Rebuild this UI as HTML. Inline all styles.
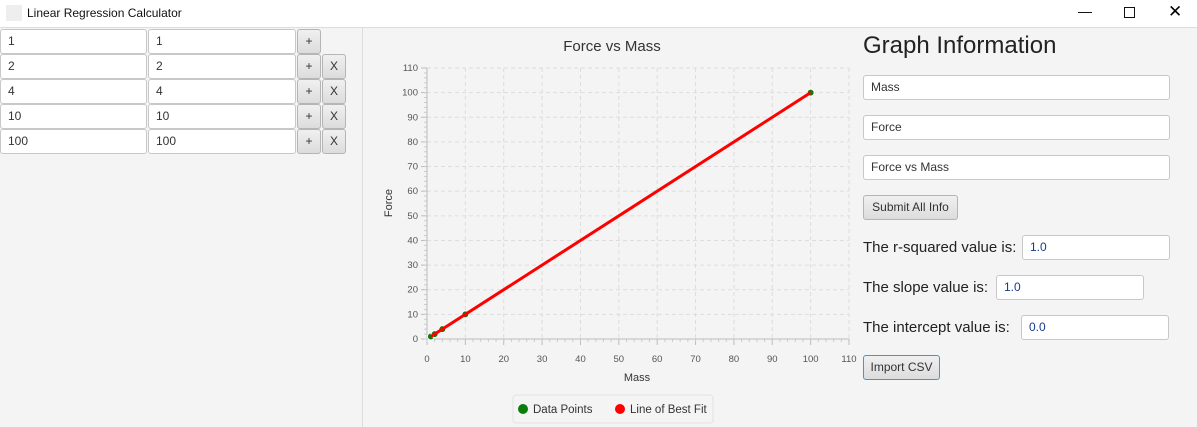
<!DOCTYPE html>
<html><head><meta charset="utf-8"><style>
body{margin:0;width:1197px;height:427px;background:#f4f4f4;font-family:"Liberation Sans",sans-serif;position:relative;overflow:hidden}
.a{position:absolute;box-sizing:border-box}
.inp{background:#fff;border:1px solid #c8c8c8;border-radius:3px;font-size:12px;color:#333;padding:5px 7px;line-height:13px}
.btn{background:linear-gradient(#f0f0f0,#dcdcdc);border:1px solid #b5b5b5;border-radius:3px;font-size:12px;color:#333;text-align:center;line-height:23px}
.lbl{font-size:15px;color:#222;white-space:nowrap}
</style></head><body>
<div class="a" style="left:0;top:0;width:1197px;height:28px;background:#fff;border-bottom:1px solid #ddd">
 <div class="a" style="left:6px;top:5px;width:16px;height:16px;background:#eee"></div>
 <div class="a" style="left:27px;top:6px;font-size:12px;color:#111">Linear Regression Calculator</div>
 <div class="a" style="left:1078px;top:3px;font-size:14px">—</div>
 <div class="a" style="left:1124px;top:7px;width:11px;height:11px;border:1px solid #111"></div>
 <div class="a" style="left:1168px;top:2px;font-size:17px">✕</div>
</div>
<div class="a" style="left:362px;top:28px;width:1px;height:399px;background:#ddd"></div>
<div id="rows"></div>
<svg class="a" style="left:0;top:0" width="1197" height="427" id="chart"></svg>
<div class="a lbl" style="left:863px;top:32px;font-size:24px">Graph Information</div>
<div class="a inp" style="left:863px;top:75px;width:307px;height:25px">Mass</div>
<div class="a inp" style="left:863px;top:115px;width:307px;height:25px">Force</div>
<div class="a inp" style="left:863px;top:155px;width:307px;height:25px">Force vs Mass</div>
<div class="a btn" style="left:863px;top:195px;width:95px;height:25px">Submit All Info</div>
<div class="a lbl" style="left:863px;top:239px">The r-squared value is:</div>
<div class="a inp" style="left:1022px;top:235px;width:148px;height:25px;color:#1a3a8a">1.0</div>
<div class="a lbl" style="left:863px;top:279px">The slope value is:</div>
<div class="a inp" style="left:996px;top:275px;width:148px;height:25px;color:#1a3a8a">1.0</div>
<div class="a lbl" style="left:863px;top:319px">The intercept value is:</div>
<div class="a inp" style="left:1021px;top:315px;width:148px;height:25px;color:#1a3a8a">0.0</div>
<div class="a btn" style="left:863px;top:355px;width:77px;height:25px;border-color:#3a9ad9">Import CSV</div>
<script>
const xs=[1,2,4,10,100], ys=[1,2,4,10,100];
const slope=1.0, intercept=0.0;
const ticks=[0,10,20,30,40,50,60,70,80,90,100,110];
const rows=document.getElementById('rows');
xs.forEach((x,i)=>{
 const t=29+i*25;
 let h=`<div class="a inp" style="left:0;top:${t}px;width:147px;height:25px">${x}</div>`;
 h+=`<div class="a inp" style="left:148px;top:${t}px;width:148px;height:25px">${ys[i]}</div>`;
 h+=`<div class="a btn" style="left:297px;top:${t}px;width:24px;height:25px">+</div>`;
 if(i>0)h+=`<div class="a btn" style="left:322px;top:${t}px;width:24px;height:25px">X</div>`;
 rows.insertAdjacentHTML('beforeend',h);
});
const X=v=>427+v*(849-427)/110, Y=v=>339-v*(339-68)/110;
let s='';
s+=`<text x="612" y="51" font-size="15" text-anchor="middle" fill="#333">Force vs Mass</text>`;
ticks.forEach(t=>{
 if(t>0){s+=`<line x1="${X(t)}" y1="68" x2="${X(t)}" y2="339" stroke="#ddd" stroke-dasharray="4,3"/>`;
 s+=`<line x1="427" y1="${Y(t)}" x2="849" y2="${Y(t)}" stroke="#ddd" stroke-dasharray="4,3"/>`;}
 s+=`<text x="${X(t)}" y="362" font-size="9.5" text-anchor="middle" fill="#555">${t}</text>`;
 s+=`<text x="418" y="${Y(t)+3}" font-size="9.5" text-anchor="end" fill="#555">${t}</text>`;
 s+=`<line x1="${X(t)}" y1="339" x2="${X(t)}" y2="345" stroke="#bbb"/><line x1="421" y1="${Y(t)}" x2="427" y2="${Y(t)}" stroke="#bbb"/>`;
});
for(let m=0;m<110;m+=2){s+=`<line x1="${X(m)}" y1="339" x2="${X(m)}" y2="342" stroke="#ccc"/><line x1="424" y1="${Y(m)}" x2="427" y2="${Y(m)}" stroke="#ccc"/>`;}
s+=`<line x1="427" y1="339" x2="849" y2="339" stroke="#bbb"/><line x1="427" y1="68" x2="427" y2="339" stroke="#bbb"/>`;
s+=`<text x="637" y="381" font-size="11" text-anchor="middle" fill="#333">Mass</text>`;
s+=`<text transform="translate(392,203) rotate(-90)" font-size="11" text-anchor="middle" fill="#333">Force</text>`;
xs.forEach((x,i)=>{s+=`<circle cx="${X(x)}" cy="${Y(ys[i])}" r="3.5" fill="#0a7d0a" stroke="#fff" stroke-width="1"/>`;});
const x0=Math.min(...xs),x1=Math.max(...xs);
s+=`<line x1="${X(x0)}" y1="${Y(slope*x0+intercept)}" x2="${X(x1)}" y2="${Y(slope*x1+intercept)}" stroke="#f00" stroke-width="3"/>`;
s+=`<rect x="513" y="395" width="200" height="28" rx="3" fill="#f4f4f4" stroke="#e2e2e2"/>`;
s+=`<circle cx="523" cy="409" r="5" fill="#0a7d0a"/><text x="533" y="413" font-size="11.5" fill="#333">Data Points</text>`;
s+=`<circle cx="620" cy="409" r="5" fill="#f00"/><text x="630" y="413" font-size="11.5" fill="#333">Line of Best Fit</text>`;
document.getElementById('chart').innerHTML=s;
</script>
</body></html>
